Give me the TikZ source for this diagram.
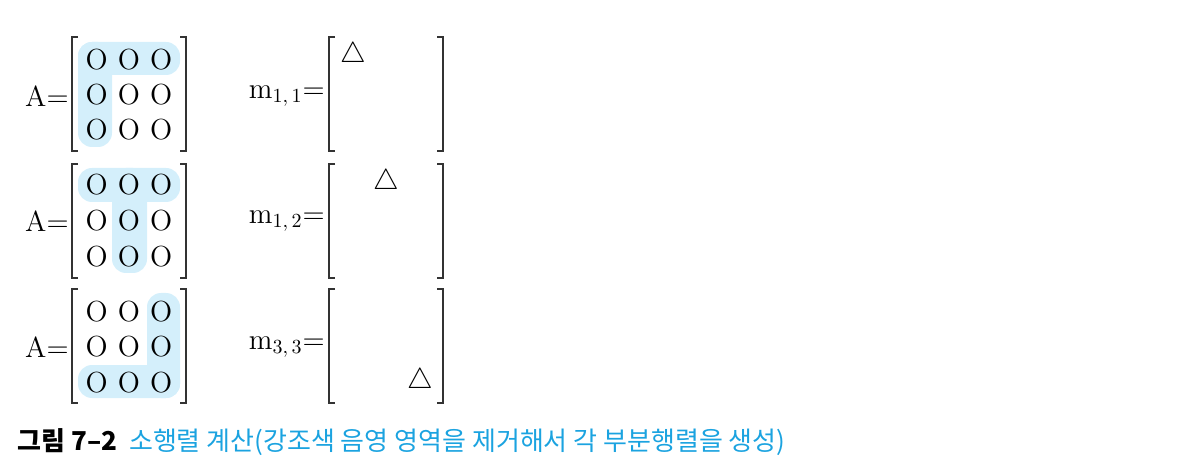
\documentclass[tikz,border=0pt]{standalone}
\usepackage{amsmath,amssymb}
\usepackage{fontspec}
\newfontfamily\kr{Noto Sans CJK KR}
\usepackage{tikz}
\definecolor{hlblue}{HTML}{D4EFFB}
\definecolor{capblue}{HTML}{1BA3E0}
\definecolor{brk}{HTML}{333333}
\tikzset{
  mat/.style={inner sep=0pt,font=\fontsize{14.5}{17}\selectfont},
  hl/.style={fill=hlblue,rounded corners=7pt},
  brack/.style={draw=brk,line width=0.8pt}
}
\newcommand{\orow}{O\hspace{5.1pt}O\hspace{5.1pt}O}

\begin{document}
\begin{tikzpicture}[x=0.5pt,y=-0.5pt]
\useasboundingbox (0,0) rectangle (1187,475);
% shaded parts
\fill[hl] (78,42) rectangle (180,75);
\fill[hl] (78,42) rectangle (112,147);
\fill[hl] (78,168) rectangle (180,202);
\fill[hl] (112,168) rectangle (147,273);
\fill[hl] (147,293) rectangle (180,398);
\fill[hl] (78,365) rectangle (180,398);
% brackets
\draw[brack] (78,37) -- (72,37) -- (72,151) -- (78,151)
  (180,37) -- (186,37) -- (186,151) -- (180,151);
\draw[brack] (78,164) -- (72,164) -- (72,278) -- (78,278)
  (180,164) -- (186,164) -- (186,278) -- (180,278);
\draw[brack] (78,289) -- (72,289) -- (72,403) -- (78,403)
  (180,289) -- (186,289) -- (186,403) -- (180,403);
\draw[brack] (335,37) -- (329,37) -- (329,151) -- (335,151)
  (437,37) -- (443,37) -- (443,151) -- (437,151);
\draw[brack] (335,164) -- (329,164) -- (329,278) -- (335,278)
  (437,164) -- (443,164) -- (443,278) -- (437,278);
\draw[brack] (335,289) -- (329,289) -- (329,403) -- (335,403)
  (437,289) -- (443,289) -- (443,403) -- (437,403);
% first matrix
\path (69,96) node(a1)[mat,anchor=east]{A=}
(129,60) node(r11)[mat]{\orow}
(129,95) node(r12)[mat]{\orow}
(129,130) node(r13)[mat]{\orow}
(325,96) node(m1)[mat,anchor=east]{m$_{1,\,1}$=}
(353,55) node(t1)[mat]{$\triangle$};
% second matrix
\path (69,221) node(a2)[mat,anchor=east]{A=}
(129,185) node(r21)[mat]{\orow}
(129,221) node(r22)[mat]{\orow}
(129,257) node(r23)[mat]{\orow}
(325,221) node(m2)[mat,anchor=east]{m$_{1,\,2}$=}
(386,182) node(t2)[mat]{$\triangle$};
% third matrix
\path (69,347) node(a3)[mat,anchor=east]{A=}
(129,312) node(r31)[mat]{\orow}
(129,347) node(r32)[mat]{\orow}
(129,383) node(r33)[mat]{\orow}
(325,347) node(m3)[mat,anchor=east]{m$_{3,\,3}$=}
(420,381) node(t3)[mat]{$\triangle$};
% caption
\path (17,442) node(cap)[anchor=west,inner sep=0pt,font=\kr\fontsize{13}{15}\selectfont]
{{\bfseries 그림 7–2}\hspace{6pt}\textcolor{capblue}{소행렬 계산(강조색 음영 영역을 제거해서 각 부분행렬을 생성)}};
\end{tikzpicture}
\end{document}
